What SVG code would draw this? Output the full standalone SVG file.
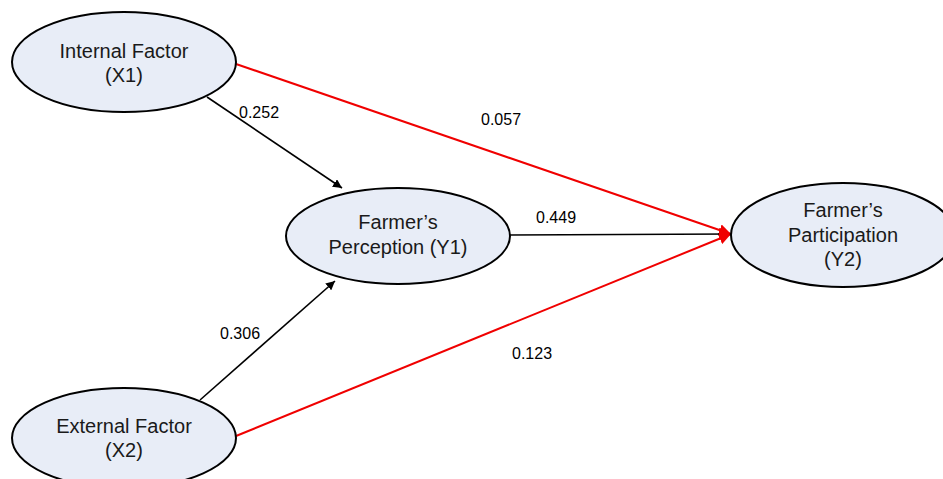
<svg xmlns="http://www.w3.org/2000/svg" width="943" height="479" viewBox="0 0 943 479">
  <style>
    .node ellipse { fill: #e8edf7; stroke: #000; stroke-width: 2; }
    .node text { font-family: "Liberation Sans", Arial, sans-serif; font-size: 20px; fill: #1a1a1a; text-anchor: middle; }
    .edge { fill: none; stroke-width: 1.6; }
    .blk { stroke: #000; }
    .red { stroke: #f00000; stroke-width: 2; }
    .lbl { font-family: "Liberation Sans", Arial, sans-serif; font-size: 16px; fill: #000; }
  </style>
  <defs>
    <marker id="arrowBlack" viewBox="0 0 10 10" refX="10" refY="5" markerWidth="9" markerHeight="9" markerUnits="userSpaceOnUse" orient="auto">
      <path d="M0,0 L10,5 L0,10 z" fill="#000"/>
    </marker>
    <marker id="arrowRed" viewBox="0 0 10 10" refX="10" refY="5" markerWidth="12" markerHeight="12" markerUnits="userSpaceOnUse" orient="auto">
      <path d="M0,0 L10,5 L0,10 z" fill="#f00000"/>
    </marker>
  </defs>

  <g id="connectors">
    <line class="edge red" x1="236" y1="64" x2="731" y2="234" marker-end="url(#arrowRed)"/>
    <line class="edge red" x1="236" y1="436" x2="731" y2="234" marker-end="url(#arrowRed)"/>
    <line class="edge blk" x1="510" y1="235" x2="731" y2="234" marker-end="url(#arrowRed)"/>
    <line class="edge blk" x1="207" y1="97" x2="342" y2="188" marker-end="url(#arrowBlack)"/>
    <line class="edge blk" x1="200" y1="400" x2="335" y2="281" marker-end="url(#arrowBlack)"/>
    <text class="lbl" x="239" y="118">0.252</text>
    <text class="lbl" x="481" y="125">0.057</text>
    <text class="lbl" x="536" y="223">0.449</text>
    <text class="lbl" x="220" y="339">0.306</text>
    <text class="lbl" x="512" y="359">0.123</text>
  </g>

  <g id="x1" class="node">
    <ellipse cx="124" cy="62" rx="112" ry="50"/>
    <text x="124" y="58">Internal Factor</text>
    <text x="124" y="82">(X1)</text>
  </g>
  <g id="x2" class="node">
    <ellipse cx="124" cy="438" rx="112" ry="50"/>
    <text x="124" y="433">External Factor</text>
    <text x="124" y="457">(X2)</text>
  </g>
  <g id="y1" class="node">
    <ellipse cx="398" cy="236" rx="112" ry="48"/>
    <text x="398" y="229">Farmer’s</text>
    <text x="398" y="254">Perception (Y1)</text>
  </g>
  <g id="y2" class="node">
    <ellipse cx="843" cy="235" rx="112" ry="52"/>
    <text x="843" y="217">Farmer’s</text>
    <text x="843" y="242">Participation</text>
    <text x="843" y="266">(Y2)</text>
  </g>
</svg>
